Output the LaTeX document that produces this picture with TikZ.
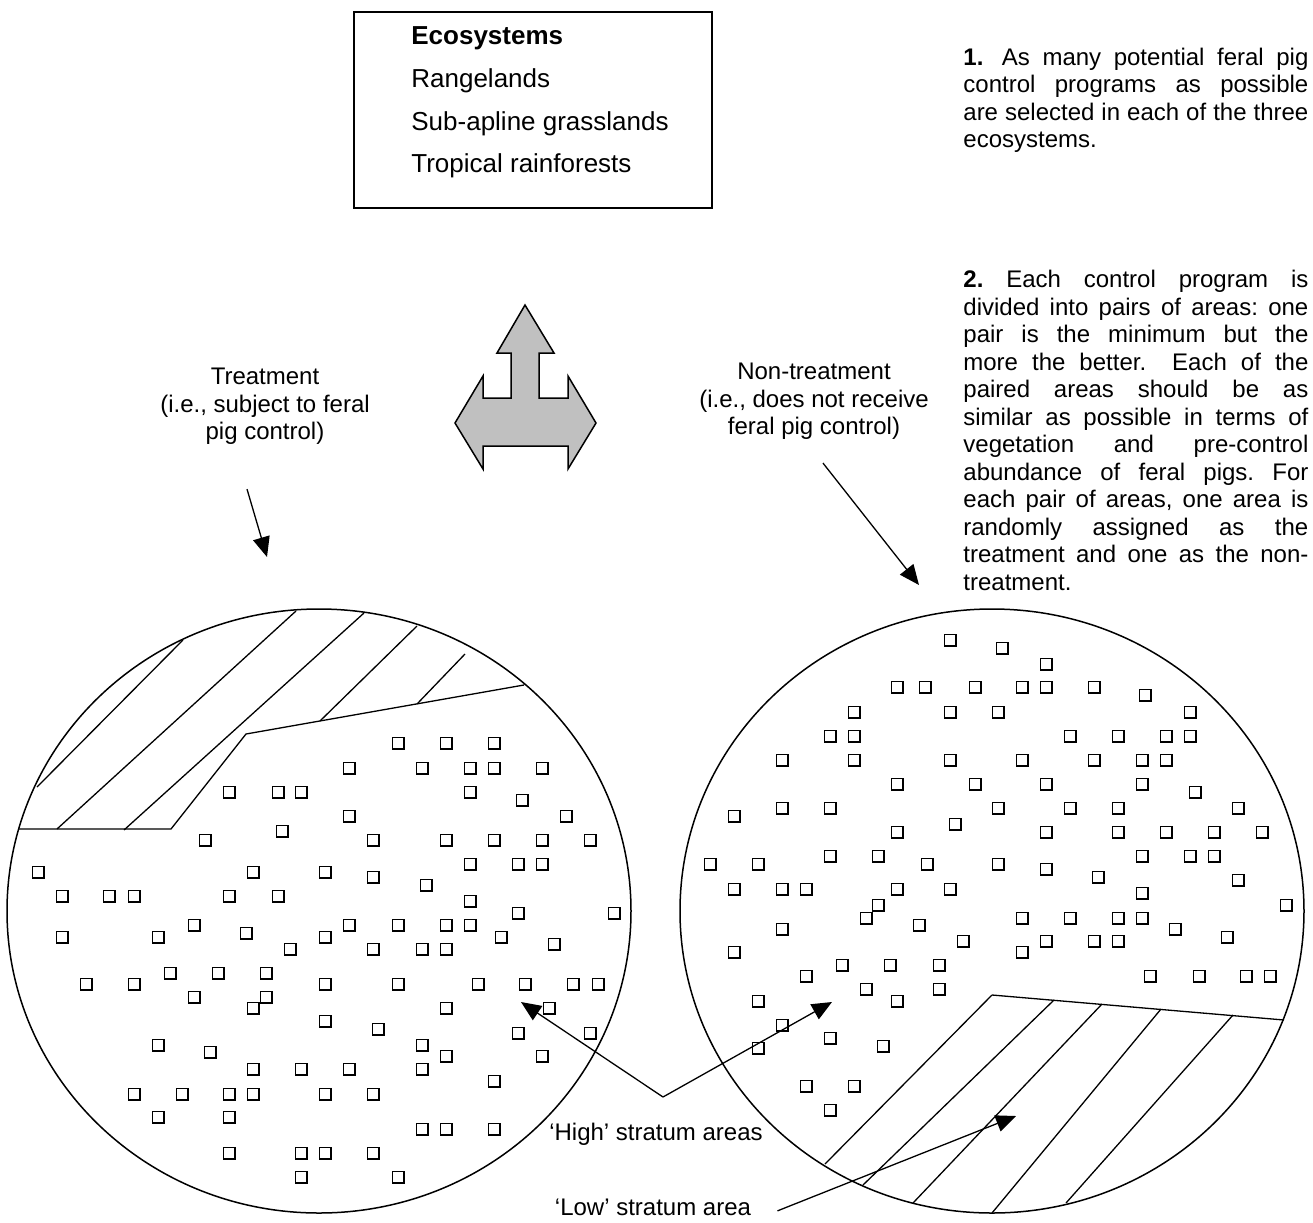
\documentclass[tikz,border=0pt]{standalone}
\usepackage{fontspec}
\setmainfont{Liberation Sans}
\usetikzlibrary{arrows.meta, shapes.geometric}
\definecolor{arrowgrey}{HTML}{C0C0C0}

\begin{document}
\frenchspacing
\begin{tikzpicture}[x=0.5pt, y=-0.5pt,
        % Style definitions
        ecobox/.style={
            rectangle,
            draw=black,
            line width=1pt,
            minimum width=179pt,
            minimum height=98pt,
            anchor=north west
        },
        txt/.style={
            anchor=north,
            align=center,
            inner sep=0pt,
            font=\fontsize{12}{13.75}\selectfont
        },
        notetext/.style={
            anchor=north west,
            inner sep=0pt,
            text width=172.5pt,
            align=justify,
            font=\fontsize{12}{13.75}\selectfont
        },
        plotarea/.style={
            ellipse,
            draw=black,
            line width=0.75pt,
            inner sep=0pt,
            minimum width=312pt,
            minimum height=302pt
        },
        hatchline/.style={line width=0.65pt},
        plotsq/.style={line width=0.75pt},
        bigarrow/.style={
            draw=black,
            fill=arrowgrey,
            line width=0.75pt,
            line join=miter
        },
        arrow/.style={
            -{Triangle[length=10pt, width=8.5pt]},
            line width=0.65pt
        }
    ]

        \useasboundingbox (0,0) rectangle (1313,1222);

        % ==========================================
        % Ecosystems box and notes
        % ==========================================
        \node (ecobox) [ecobox] at (353,11) {};
        \node (ecotext) [anchor=north west, align=left, inner sep=0pt,
            font=\fontsize{13}{21.35}\selectfont] at (411,26.4)
            {\textbf{Ecosystems}\\Rangelands\\Sub-apline grasslands\\Tropical rainforests};

        % Step 1 and step 2 on the right
        \node (step1) [notetext] at (963,47.5)
            {\textbf{1.}\hspace{3pt} As many potential feral pig\linebreak
             control programs as possible\linebreak
             are selected in each of the three\linebreak
             ecosystems.};
        \node (step2) [notetext] at (963,269.8)
            {\textbf{2.} Each control program is\linebreak
             divided into pairs of areas: one\linebreak
             pair is the minimum but the\linebreak
             more the better.\hspace{6pt} Each of the\linebreak
             paired areas should be as\linebreak
             similar as possible in terms of\linebreak
             vegetation and pre-control\linebreak
             abundance of feral pigs. For\linebreak
             each pair of areas, one area is\linebreak
             randomly assigned as the\linebreak
             treatment and one as the non-\linebreak
             treatment.};

        % ==========================================
        % Three-way arrow
        % ==========================================
        \draw [bigarrow] (525,305) -- (554,353) -- (539,353) -- (539,398)
            -- (568,398) -- (568,376) -- (596,423) -- (568,469) -- (568,446)
            -- (483,446) -- (483,469) -- (455,423) -- (483,376) -- (483,398)
            -- (511,398) -- (511,353) -- (497,353) -- cycle;

        % ==========================================
        % Paired areas
        % ==========================================
        \node (treatlabel) [txt] at (265,367.8)
            {Treatment\\(i.e., subject to feral\\pig control)};
        \node (nonlabel) [txt] at (814,362.8)
            {Non-treatment\\(i.e., does not receive\\feral pig control)};

        \node (treatarea) [plotarea] at (319,911) {};
        \node (nonarea) [plotarea] at (992,911) {};

        % Low stratum in the treatment area
        \draw [hatchline] (19,829) -- (171,829) -- (246,734) -- (524,685);
        \foreach \xa/\ya/\xb/\yb in {37/787/183/640, 57/829/296/611,
                124/830/364/613, 320/721/417/626, 417/704/465/654}
            \draw [hatchline] (\xa,\ya) -- (\xb,\yb);

        % Low stratum in the non-treatment area
        \draw [hatchline] (992,995) -- (1284,1020);
        \foreach \xa/\ya/\xb/\yb in {825/1164/992/995, 863/1185/1054/1000,
                913/1203/1102/1004, 992/1213/1161/1009, 1066/1203/1233/1015}
            \draw [hatchline] (\xa,\ya) -- (\xb,\yb);

        % Plots, treatment area
        \foreach \x/\y in {398/743, 446/743, 494/743,
                349/768, 422/768, 470/768, 494/768, 542/768,
                229/792, 278/792, 301/792, 470/792, 522/800,
                349/816, 566/816, 282/831,
                205/840, 373/840, 446/840, 494/840, 542/840, 590/840,
                470/864, 518/864, 542/864,
                38/872, 253/872, 325/872, 373/877, 426/885,
                62/896, 109/896, 134/896, 229/896, 278/896, 470/901,
                518/913, 614/913,
                194/925, 349/925, 398/925, 446/925, 470/925, 246/933,
                62/937, 158/937, 325/937, 501/937, 554/944,
                290/949, 373/949, 422/949, 446/949,
                170/973, 218/973, 266/973,
                86/984, 134/984, 325/984, 398/984, 478/984, 525/984, 573/984, 598/984,
                194/997, 266/997, 253/1008, 446/1008, 549/1008,
                325/1021, 378/1029, 518/1033, 590/1033,
                158/1045, 422/1045, 210/1052, 446/1056, 542/1056,
                253/1069, 301/1069, 349/1069, 422/1069, 494/1081,
                134/1094, 182/1094, 229/1094, 253/1094, 325/1094, 373/1094,
                158/1117, 229/1117, 422/1129, 446/1129, 494/1129,
                229/1153, 301/1153, 325/1153, 373/1153,
                301/1177, 398/1177}
            \draw [plotsq] (\x,\y) +(-5.75,-5.75) rectangle +(5.75,5.75);

        % Plots, non-treatment area
        \foreach \x/\y in {950/640, 1002/648, 1046/664,
                897/687, 925/687, 975/687, 1022/687, 1046/687, 1094/687, 1145/695,
                854/712, 950/712, 998/712, 1190/712,
                830/736, 854/736, 1070/736, 1118/736, 1166/736, 1190/736,
                782/760, 854/760, 950/760, 1022/760, 1094/760, 1142/760, 1166/760,
                897/784, 975/784, 1046/784, 1142/784, 1195/792,
                782/808, 830/808, 998/808, 1070/808, 1118/808, 1238/808,
                734/816, 955/824,
                897/832, 1046/832, 1118/832, 1166/832, 1214/832, 1262/832,
                830/856, 878/856, 1142/856, 1190/856, 1214/856,
                710/864, 758/864, 927/864, 998/864, 1046/869, 1098/877, 1238/880,
                734/889, 782/889, 806/889, 897/889, 950/889, 1142/893,
                878/905, 1286/905,
                866/918, 1022/918, 1070/918, 1118/918, 1142/918, 919/925,
                782/929, 1175/929, 1227/937,
                963/941, 1046/941, 1094/941, 1118/941, 734/952, 1022/952,
                842/965, 890/965, 939/965,
                806/976, 1150/976, 1199/976, 1246/976, 1270/976,
                866/989, 939/989, 758/1001, 897/1001,
                782/1025, 830/1038, 883/1046, 758/1048,
                806/1086, 854/1086, 830/1110}
            \draw [plotsq] (\x,\y) +(-5.75,-5.75) rectangle +(5.75,5.75);

        % ==========================================
        % Stratum labels and arrows
        % ==========================================
        \node (highlabel) [txt, anchor=base] at (656,1140) {‘High’ stratum areas};
        \node (lowlabel) [txt, anchor=base] at (653,1215) {‘Low’ stratum area};

        \coordinate (treattip) at (267,557);
        \coordinate (nontip) at (919,585);
        \coordinate (highsplit) at (663,1097);
        \coordinate (hightreat) at (521,1002);
        \coordinate (highnon) at (832,1002);
        \coordinate (lowtip) at (1016,1116);

        \draw [arrow] ([xshift=-9pt, yshift=-22pt]treatlabel.south) -- (treattip);
        \draw [arrow] ([xshift=4.5pt, yshift=-11.5pt]nonlabel.south) -- (nontip);
        \draw [arrow] (highsplit) -- (hightreat);
        \draw [arrow] (highsplit) -- (highnon);
        \draw [arrow] ([xshift=13pt, yshift=-2pt]lowlabel.east) -- (lowtip);

    \end{tikzpicture}
\end{document}
